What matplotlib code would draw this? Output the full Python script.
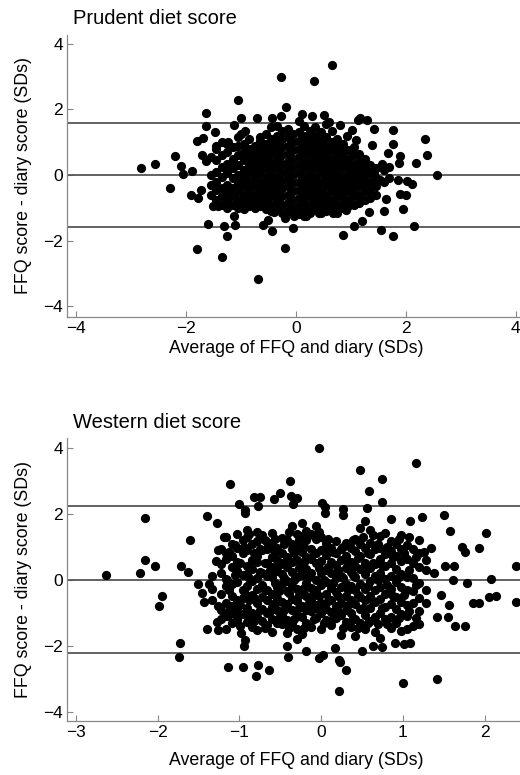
import matplotlib
matplotlib.use("Agg")
import matplotlib.pyplot as plt

plt.rcParams['font.family'] = ['Liberation Sans', 'DejaVu Sans']

# ---------------- Prudent diet score (top panel) ----------------
prudent_limits = [1.59, 0.0, -1.59]
# distinct / outlying points (average, difference)
prudent_out_x = [-2.82, -2.56, -2.28, -2.19, -2.08, -2.05, -1.88, -1.90, -1.80, -1.78,
                 -1.79, -1.69, -1.64, -1.64, -1.70, -1.63, -1.72, -1.59, -1.51, -1.47,
                 -1.45, -1.34, -1.30, -1.25, -1.41, -1.13, -1.10, -1.12, -1.05, -0.99,
                 -1.00, -0.93, -1.24, -0.70, -0.65, -0.69, -0.59, -0.51, -0.44, -0.39,
                 -0.27, -0.27, -0.44, -0.18, -0.19, -0.20, -0.05, -0.04, 0.05, 0.12,
                 0.33, 0.30, 0.65, 0.52, 0.61, 0.81, 0.93, 1.02, 1.13, 1.30,
                 1.17, 1.42, 1.38, 1.10, 0.85, 1.05, 1.21, 1.34, 1.55, 1.61,
                 1.76, 1.95, 2.15, 2.12, 2.02, 1.90, 2.00, 1.86, 1.64, 1.76,
                 1.77, 1.68, 1.90, 1.88, 2.19, 2.35, 2.38, 2.57, 1.56, 1.53,
                 1.42, 1.25, 0.92, 0.67, 0.43, 0.19, 0.10]
prudent_out_y = [0.21, 0.33, -0.40, 0.57, 0.28, 0.03, 0.11, -0.62, -2.25, -0.70,
                 1.05, 1.13, 1.88, 1.50, 0.62, 0.42, -0.45, -1.49, -0.96, 1.30,
                 0.87, -2.49, -1.57, -1.85, -0.96, -1.24, -1.53, 1.53, 2.28, 1.74,
                 1.26, 1.33, 1.00, 1.73, 1.16, -3.17, -1.52, -1.36, -1.70, -1.14,
                 2.98, 1.79, 1.74, 2.08, -2.24, -1.32, -1.62, -1.26, 1.64, 1.87,
                 2.86, 1.81, 3.34, 1.84, 1.61, 1.52, 1.18, 1.38, 1.67, 1.69,
                 1.74, 1.40, 0.92, 1.06, -1.82, -1.55, -1.39, -1.13, -1.67, -1.09,
                 -1.87, -1.03, -1.57, -0.27, -0.19, -0.58, -0.61, -0.14, -0.72, 1.36,
                 0.94, 0.67, 0.57, 0.37, 0.37, 1.11, 0.62, 0.00, 0.35, -0.14,
                 0.06, 0.47, -1.06, -1.16, -1.16, -1.26, -1.16]
# dense core, read column by column
prudent_core_x = [-1.55, -1.45, -1.35, -1.25, -1.15, -1.05, -0.95, -0.85, -0.75, -0.65,
                  -0.55, -0.45, -0.35, -0.25, -0.15, -0.05, 0.05, 0.15, 0.25, 0.35,
                  0.45, 0.55, 0.65, 0.75, 0.85, 0.95, 1.05, 1.15, 1.25, 1.35,
                  1.45, 1.60, 1.70]
prudent_core_y = [
    [0.55, 0.0, -0.3, -0.6],
    [0.8, 0.45, 0.1, -0.2, -0.45, -0.75],
    [1.0, 0.6, 0.25, -0.05, -0.4, -0.65, -0.9],
    [0.95, 0.7, 0.35, 0.05, -0.3, -0.55, -0.8, -1.0],
    [0.85, 0.5, 0.2, -0.1, -0.4, -0.65, -0.9],
    [1.15, 0.9, 0.6, 0.3, 0.0, -0.25, -0.5, -0.75, -1.0],
    [0.95, 0.7, 0.45, 0.15, -0.1, -0.35, -0.6, -0.85, -1.05],
    [1.1, 0.8, 0.55, 0.3, 0.05, -0.2, -0.45, -0.7, -0.95],
    [0.9, 0.65, 0.4, 0.15, -0.1, -0.35, -0.6, -0.85, -1.0],
    [1.05, 0.8, 0.55, 0.3, 0.05, -0.2, -0.45, -0.7, -0.95],
    [1.25, 0.95, 0.7, 0.45, 0.2, -0.05, -0.3, -0.55, -0.8, -1.05],
    [1.45, 1.1, 0.85, 0.6, 0.35, 0.1, -0.15, -0.4, -0.65, -0.9, -1.1],
    [1.5, 1.2, 0.95, 0.7, 0.45, 0.2, -0.05, -0.3, -0.55, -0.8, -1.0],
    [1.35, 1.1, 0.85, 0.6, 0.35, 0.1, -0.15, -0.4, -0.65, -0.9, -1.15],
    [1.4, 1.15, 0.9, 0.65, 0.4, 0.15, -0.1, -0.35, -0.6, -0.85, -1.1],
    [1.25, 1.0, 0.75, 0.5, 0.25, 0.0, -0.25, -0.5, -0.75, -1.0, -1.2],
    [1.3, 1.05, 0.8, 0.55, 0.3, 0.05, -0.2, -0.45, -0.7, -0.95, -1.2],
    [1.5, 1.2, 0.95, 0.7, 0.45, 0.2, -0.05, -0.3, -0.55, -0.8, -1.05, -1.25],
    [1.35, 1.1, 0.85, 0.6, 0.35, 0.1, -0.15, -0.4, -0.65, -0.9, -1.15],
    [1.45, 1.2, 0.95, 0.7, 0.45, 0.2, -0.05, -0.3, -0.55, -0.8, -1.05],
    [1.3, 1.05, 0.8, 0.55, 0.3, 0.05, -0.2, -0.45, -0.7, -0.95, -1.15],
    [1.55, 1.15, 0.9, 0.65, 0.4, 0.15, -0.1, -0.35, -0.6, -0.85, -1.1],
    [1.35, 1.0, 0.75, 0.5, 0.25, 0.0, -0.25, -0.5, -0.75, -1.0],
    [1.1, 0.85, 0.6, 0.35, 0.1, -0.15, -0.4, -0.65, -0.9, -1.15],
    [0.95, 0.7, 0.45, 0.2, -0.05, -0.3, -0.55, -0.8, -1.0],
    [0.75, 0.5, 0.25, 0.0, -0.25, -0.5, -0.75, -0.95],
    [0.85, 0.6, 0.35, 0.1, -0.15, -0.4, -0.65, -0.9],
    [0.65, 0.4, 0.15, -0.1, -0.35, -0.6, -0.85],
    [0.5, 0.25, 0.0, -0.25, -0.5, -0.75],
    [0.3, 0.05, -0.2, -0.45, -0.7],
    [0.2, -0.1, -0.35, -0.6],
    [0.15, -0.2],
    [0.25, -0.1],
]

# ---------------- Western diet score (bottom panel) ----------------
western_limits = [2.23, 0.0, -2.22]
western_out_x = [-2.63, -2.22, -2.16, -2.15, -2.03, -1.95, -1.98, -1.73, -1.74, -1.71,
                 -1.63, -1.60, -1.51, -1.46, -1.43, -1.40, -1.40, -1.37, -1.27, -1.29,
                 -1.26, -1.26, -1.27, -1.26, -1.19, -1.14, -1.12, -1.15, -1.14, -1.03,
                 -1.00, -0.93, -0.93, -0.96, -0.98, -0.93, -0.94, -0.82, -0.75, -0.77,
                 -0.80, -0.77, -0.64, -0.58, -0.50, -0.38, -0.37, -0.30, -0.34, -0.42,
                 -0.41, -0.29, -0.18, -0.03, 0.01, 0.05, 0.05, -0.03, 0.02, 0.17,
                 0.22, 0.23, 0.31, 0.22, 0.27, 0.27, 0.47, 0.58, 0.56, 0.75,
                 0.75, 0.86, 1.16, 1.09, 1.23, 1.50, 1.58, 0.50, 0.64, 0.74,
                 0.91, 1.00, 1.02, 1.09, 1.42, 1.42, 1.55, 1.64, 1.76, 1.63,
                 1.61, 1.56, 1.51, 1.47, 1.38, 1.34, 1.26, 1.72, 1.76, 1.79,
                 1.86, 1.93, 1.93, 2.02, 2.08, 2.06, 2.14, 2.38, 2.39]
western_out_y = [0.16, 0.20, 0.61, 1.87, 0.43, -0.48, -0.79, -1.90, -2.35, 0.43,
                 0.24, 1.21, -0.12, -0.40, -0.66, 1.94, -1.49, -0.12, 1.72, 0.56,
                 0.91, -0.79, -1.29, -1.52, 1.31, -2.65, 2.90, 0.00, -1.11, -1.19,
                 2.31, 2.12, 2.04, -2.65, -1.62, -1.82, -2.02, 2.50, 2.50, 2.24,
                 -2.91, -2.58, -2.73, 2.45, 2.63, 3.00, 2.55, 2.47, 2.30, -2.02,
                 -2.34, -1.80, -2.17, 4.01, 2.32, 2.22, 2.02, -2.37, -2.27, -2.07,
                 -2.42, -2.50, -2.73, -3.36, 2.14, 1.97, 3.33, 2.68, 2.17, 3.05,
                 2.36, 1.84, 3.55, 1.77, 1.89, 1.97, 1.49, -2.15, -2.00, -2.05,
                 -1.90, -3.13, -1.95, -1.90, -3.00, -1.13, -1.14, -1.41, -1.41, 0.42,
                 0.00, -0.76, 0.42, -0.47, 0.22, 0.96, 0.83, 1.01, 0.83, -0.10,
                 -0.69, -0.69, 0.96, 1.41, 0.02, -0.51, -0.48, 0.42, -0.66]
western_core_x = [-1.33, -1.22, -1.17, -1.09, -1.03, -0.96, -0.91, -0.85, -0.78, -0.72,
                  -0.66, -0.60, -0.54, -0.48, -0.42, -0.36, -0.30, -0.24, -0.18, -0.12,
                  -0.06, 0.00, 0.06, 0.12, 0.18, 0.24, 0.30, 0.36, 0.42, 0.48,
                  0.54, 0.60, 0.66, 0.72, 0.78, 0.85, 0.92, 0.98, 1.05, 1.12,
                  1.20, 1.28]
western_core_y = [
    [0.12, -0.28, -0.6],
    [0.95, 0.48, 0.2, -0.42, -0.92, -1.2],
    [1.3, 0.82, 0.62, 0.02, -0.18, -0.7, -1.1, -1.48],
    [1.1, 0.72, 0.4, -0.12, -0.5, -0.78, -1.3],
    [1.4, 0.98, 0.55, 0.28, -0.08, -0.62, -0.98, -1.22],
    [1.22, 0.8, 0.15, -0.3, -0.55, -1.05],
    [1.5, 1.3, 0.9, 0.42, 0.18, -0.2, -0.48, -0.85, -1.28],
    [1.08, 0.6, 0.32, -0.02, -0.45, -1.0, -1.42],
    [1.45, 1.18, 0.72, 0.55, 0.05, -0.28, -0.7, -1.12, -1.52],
    [1.35, 0.9, 0.22, -0.15, -0.52, -0.88, -1.25],
    [1.15, 0.92, 0.5, 0.12, -0.32, -0.6, -1.02, -1.38],
    [1.42, 1.02, 0.7, 0.38, 0.1, -0.42, -0.82, -1.18, -1.58],
    [0.98, 0.6, 0.28, -0.22, -0.55, -0.92, -1.3],
    [1.28, 0.82, 0.52, 0.18, -0.12, -0.68, -1.05, -1.35],
    [1.2, 0.7, 0.4, -0.05, -0.35, -0.72, -1.22, -1.6],
    [1.62, 1.1, 0.95, 0.55, 0.25, -0.2, -0.58, -0.9, -1.3],
    [1.38, 1.0, 0.6, 0.08, -0.28, -0.65, -1.1, -1.48],
    [1.72, 1.32, 0.85, 0.45, 0.15, -0.4, -0.8, -1.12, -1.65],
    [1.48, 1.2, 0.68, 0.32, -0.1, -0.48, -0.9, -1.3],
    [1.4, 0.95, 0.62, 0.22, -0.25, -0.58, -0.95, -1.42],
    [1.62, 1.25, 0.82, 0.5, 0.0, -0.32, -0.75, -1.15],
    [1.3, 0.9, 0.58, 0.2, -0.15, -0.7, -1.0, -1.48],
    [1.12, 0.75, 0.3, -0.08, -0.42, -0.88, -1.22],
    [0.98, 0.55, 0.22, -0.25, -0.62, -0.98, -1.38],
    [1.18, 0.82, 0.45, 0.05, -0.38, -0.78, -1.15],
    [0.92, 0.6, 0.12, -0.22, -0.7, -1.08, -1.68],
    [1.12, 0.72, 0.35, -0.12, -0.48, -0.92, -1.28],
    [0.98, 0.55, 0.25, -0.18, -0.62, -1.02, -1.42],
    [1.25, 0.88, 0.42, 0.08, -0.32, -0.72, -1.18, -1.7],
    [1.58, 1.08, 0.72, 0.32, -0.12, -0.52, -0.88, -1.32],
    [1.78, 0.98, 0.52, 0.18, -0.28, -0.62, -1.08, -1.48],
    [1.52, 1.12, 0.78, 0.35, -0.02, -0.48, -0.85, -1.25],
    [0.92, 0.48, 0.12, -0.32, -0.68, -1.12, -1.58],
    [1.32, 0.98, 0.62, 0.22, -0.22, -0.58, -1.02, -1.75],
    [1.42, 0.78, 0.42, 0.02, -0.42, -0.82, -1.18],
    [1.18, 0.88, 0.52, 0.12, -0.28, -0.72, -1.12, -1.45],
    [1.08, 0.72, 0.32, -0.08, -0.52, -0.88, -1.32],
    [1.35, 0.92, 0.58, 0.18, -0.22, -0.68, -1.05, -1.55],
    [1.05, 0.62, 0.1, -0.3, -0.75, -1.1, -1.5],
    [0.95, 0.5, 0.05, -0.35, -0.7, -1.4],
    [1.2, 0.8, 0.4, -0.1, -0.55, -0.95, -1.35],
    [0.6, 0.3, -0.3, -0.7],
]
# additional points between the columns above
western_fill_x = [-1.13, -1.06, -0.99, -0.94, -0.88, -0.82, -0.75, -0.69, -0.63, -0.57,
                  -0.51, -0.45, -0.39, -0.33, -0.27, -0.21, -0.15, -0.09, -0.03, 0.03,
                  0.09, 0.15, 0.21, 0.27, 0.33, 0.39, 0.45, 0.51, 0.57, 0.63,
                  0.69, 0.75, 0.81, 0.88, 0.95, 1.01, 1.08, 1.16]
western_fill_y = [
    [0.85, -0.3, -0.95], [1.05, 0.15, -1.05], [0.5, -0.75, -1.4], [1.0, -0.35],
    [1.4, 0.05, -0.6, -1.1], [0.8, -0.55, -1.25], [0.95, 0.25, -0.9],
    [1.2, 0.5, -0.3, -1.45], [0.3, -0.95], [1.25, 0.85, -0.1, -0.7],
    [0.45, -0.35, -1.15], [1.1, 0.05, -0.9], [1.45, 0.55, -0.4, -1.45],
    [0.8, 0.0, -1.2], [1.2, 0.35, -0.45, -0.85], [1.0, 0.55, -0.25, -1.45],
    [1.35, 0.1, -0.7], [0.8, -0.4, -1.2], [1.45, 0.35, -0.5, -0.9],
    [0.95, 0.0, -1.3], [1.25, 0.4, -0.65], [0.85, -0.1, -1.2], [0.3, -0.5, -0.95],
    [1.0, 0.05, -1.45], [0.5, -0.3, -0.75], [1.2, 0.15, -1.2], [0.65, -0.45, -1.45],
    [1.3, 0.35, -0.85], [0.8, -0.2, -1.3], [1.35, 0.5, -0.65], [1.1, 0.0, -1.35],
    [0.45, -0.85], [1.0, -0.15, -1.35], [0.7, -0.5], [1.25, 0.1, -1.15],
    [0.8, -0.45], [1.3, 0.3, -0.95], [0.7, -0.15, -1.15],
]

prudent_xticks = [-4, -2, 0, 2, 4]
western_xticks = [-3, -2, -1, 0, 1, 2]
yticks = [-4, -2, 0, 2, 4]

W, H = 520, 775
fig = plt.figure(figsize=(W / 100, H / 100), dpi=100)


def flatten(cx, cy):
    xs, ys = [], []
    for x, col in zip(cx, cy):
        for y in col:
            xs.append(x)
            ys.append(y)
    return xs, ys


def panel(rect, title, title_y, ox, oy, groups, limits, xlim, ylim, xticks, xpad):
    ax = fig.add_axes(rect)
    xs, ys = list(ox), list(oy)
    for cx, cy in groups:
        kx, ky = flatten(cx, cy)
        xs += kx
        ys += ky
    ax.scatter(xs, ys, s=44, c='black', linewidths=0, zorder=3)
    for v in limits:
        ax.axhline(v, color='#555555', lw=1.3, zorder=2)
    ax.set_xlim(*xlim)
    ax.set_ylim(*ylim)
    ax.set_xticks(xticks)
    ax.set_yticks(yticks)
    ax.tick_params(direction='in', length=4, width=0.8, color='#888888',
                   labelsize=12.5, pad=3)
    for s in ['top', 'right']:
        ax.spines[s].set_visible(False)
    for s in ['left', 'bottom']:
        ax.spines[s].set_color('#888888')
        ax.spines[s].set_linewidth(0.9)
    ax.set_xlabel('Average of FFQ and diary (SDs)', fontsize=12.8, labelpad=xpad)
    ax.set_ylabel('FFQ score - diary score (SDs)', fontsize=12.8, labelpad=8)
    fig.text(73 / W, 1 - title_y / H, title, fontsize=14.5, ha='left', va='center')
    return ax


panel([67 / W, 1 - 317 / H, 457.6 / W, 282 / H], 'Prudent diet score', 18,
      prudent_out_x, prudent_out_y, [(prudent_core_x, prudent_core_y)],
      prudent_limits, (-4.16, 4.16), (-4.33, 4.27), prudent_xticks, 3)
panel([67 / W, 1 - 720.7 / H, 457.6 / W, 282.7 / H], 'Western diet score', 423,
      western_out_x, western_out_y,
      [(western_core_x, western_core_y), (western_fill_x, western_fill_y)],
      western_limits, (-3.11, 2.49), (-4.27, 4.30), western_xticks, 9)

fig.savefig('out.png', dpi=100)
